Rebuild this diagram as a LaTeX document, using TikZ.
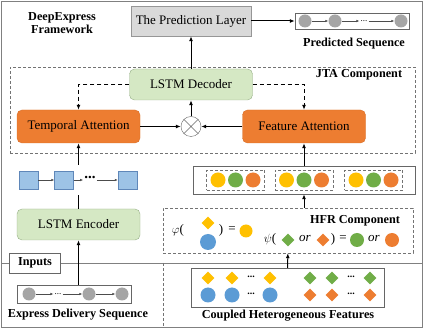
\documentclass[tikz,border=0pt]{standalone}
\usepackage{fontspec}
\setmainfont{Liberation Serif}
\usetikzlibrary{positioning,arrows.meta,calc,fit,shapes.geometric}
\definecolor{lstmgreen}{RGB}{213,232,196}
\definecolor{lstmedge}{RGB}{150,175,135}
\definecolor{attnorange}{RGB}{237,125,49}
\definecolor{attnedge}{RGB}{215,110,40}
\definecolor{predfill}{RGB}{217,217,217}
\definecolor{prededge}{RGB}{150,150,150}
\definecolor{hidblue}{RGB}{157,195,230}
\definecolor{hidedge}{RGB}{95,135,185}
\definecolor{seqgray}{RGB}{165,165,165}
\definecolor{cyellow}{RGB}{255,192,0}
\definecolor{cgreen}{RGB}{112,173,71}
\definecolor{corange}{RGB}{237,125,49}
\definecolor{cblue}{RGB}{91,155,213}
\definecolor{framegray}{RGB}{128,128,128}

\begin{document}
\begin{tikzpicture}[x=1pt, y=-1pt,
      font=\fontsize{13}{15}\selectfont,
      lbl/.style={font=\fontsize{12.2}{12.5}\selectfont\bfseries, align=center},
      lstm/.style={draw=lstmedge, fill=lstmgreen, rounded corners=5pt, minimum width=123pt, minimum height=31pt},
      attn/.style={draw=attnedge, fill=attnorange, rounded corners=5pt, minimum width=123pt, minimum height=33pt},
      pred/.style={draw=prededge, fill=predfill, minimum width=120pt, minimum height=30pt},
      grp/.style={draw=black!55, dash pattern=on 3pt off 2pt, inner sep=0pt},
      seqbox/.style={draw=black!60, fill=white, inner sep=0pt},
      ball/.style={circle, inner sep=0pt, minimum size=#1},
      dia/.style={diamond, aspect=1, inner sep=0pt, minimum size=13pt},
      hid/.style={draw=hidedge, fill=hidblue, inner sep=0pt, minimum width=19pt, minimum height=18pt},
      gap/.style={inner sep=1pt, font=\fontsize{9}{9}\selectfont},
      arr/.style={-{Latex[length=5pt,width=4pt]}, line width=1pt},
      sarr/.style={-{Latex[length=3pt,width=2.5pt]}, black!70, line width=0.6pt},
      darr/.style={arr, dash pattern=on 4pt off 3pt}]
    \useasboundingbox (0,0) rectangle (423,328);
    \draw[framegray, line width=0.9pt] (1,1) rectangle (422,327);
    \draw[framegray, line width=0.9pt] (1,263) -- (422,263);
    \draw[grp] (163,263) -- (163,327);

    \node[lbl] (title) at (62,23) {DeepExpress\\Framework};
    \node[pred] (pred) at (191,21) {The Prediction Layer};
    \node[seqbox, minimum width=114pt, minimum height=16pt] (pseq) at (352,21) {};
    \node[ball=13pt, fill=seqgray] (p1) at (305,21) {};
    \node[ball=13pt, fill=seqgray] (p2) at (335,21) {};
    \node[gap] (pdots) at (364,21) {...};
    \node[ball=13pt, fill=seqgray] (p3) at (401,21) {};
    \draw[sarr] (p1) -- (p2);
    \draw[sarr] (p2) -- (pdots);
    \draw[sarr] (pdots) -- (p3);
    \draw[arr] (pred) -- (pseq);
    \node[lbl] (plbl) at (354,44) {Predicted Sequence};

    \node[grp, minimum width=405pt, minimum height=86pt] (jta) at (212.5,110) {};
    \node[lbl] (jtalbl) at (359,75) {JTA Component};
    \node[lstm] (dec) at (191,84.5) {LSTM Decoder};
    \node[attn] (tatt) at (78.5,126.5) {Temporal Attention};
    \node[attn] (fatt) at (304,126.5) {Feature Attention};
    \node[draw=black!60, fill=white, circle, minimum size=20pt, inner sep=0pt] (mul) at (191,126.5) {};
    \draw[black!60] (mul.north west) -- (mul.south east) (mul.north east) -- (mul.south west);
    \draw[arr] (tatt) -- (mul);
    \draw[arr] (fatt) -- (mul);
    \draw[arr] (mul) -- (dec);
    \draw[arr] (dec) -- (pred);
    \draw[darr] (dec.west) -| (tatt.north);
    \draw[darr] (dec.east) -| (fatt.north);

    \node[hid] (h1) at (28.5,180) {};
    \node[hid] (h2) at (64,180) {};
    \node[gap, font=\fontsize{15}{15}\selectfont\bfseries] (hdots) at (90,177.5) {...};
    \node[hid] (h3) at (127.5,180) {};
    \draw[sarr] (h1) -- (h2);
    \draw[sarr] (h2) -- (h2 -| hdots.west);
    \draw[sarr] (h3 -| hdots.east) -- (h3);
    \coordinate (htop) at (78.5,165);
    \coordinate (hbot) at (78.5,195);

    \node[lstm] (enc) at (78.5,224.5) {LSTM Encoder};
    \draw (enc) -- (hbot);
    \draw[arr] (htop) -- (tatt);

    \node[draw=black!60, fill=white, minimum width=51pt, minimum height=20pt, inner sep=0pt, font=\fontsize{12.2}{13}\selectfont\bfseries] (inp) at (35,263) {Inputs};
    \node[seqbox, minimum width=114pt, minimum height=18pt] (eseq) at (74,294) {};
    \node[ball=13pt, fill=seqgray] (e1) at (29,294) {};
    \node[gap] (edots) at (58,294) {...};
    \node[ball=13pt, fill=seqgray] (e2) at (89,294) {};
    \node[ball=13pt, fill=seqgray] (e3) at (122,294) {};
    \draw[sarr] (e1) -- (edots);
    \draw[sarr] (edots) -- (e2);
    \draw[sarr] (e2) -- (e3);
    \draw[arr] (enc.south |- eseq.north) -- (enc.south);
    \node[lbl] (elbl) at (78,315) {Express Delivery Sequence};

    \node[seqbox, minimum width=222pt, minimum height=28pt] (fr) at (304,180) {};
    \foreach \gx [count=\i] in {235.5,304,373.5} {
      \node[grp, minimum width=58pt, minimum height=20pt] (g\i) at (\gx,180) {};
      \node[ball=15pt, fill=cyellow] (g\i y) at (\gx-17.5,180) {};
      \node[ball=15pt, fill=cgreen] (g\i g) at (\gx,180) {};
      \node[ball=15pt, fill=corange] (g\i o) at (\gx+17.5,180) {};
    }
    \draw[arr] (fr) -- (fatt);

    \node[grp, minimum width=250pt, minimum height=45pt] (hfr) at (288,230.5) {};
    \node[lbl] (hfrlbl) at (355,221) {HFR Component};
    \node (phi) at (178,230) {$\varphi$(};
    \node[dia, fill=cyellow] (phid) at (208,223) {};
    \node[ball=16pt, fill=cblue] (phic) at (208,242) {};
    \node (phir) at (221,230) {)};
    \node (phieq) at (232,230) {=};
    \node[ball=13pt, fill=cyellow] (phiy) at (246,231) {};
    \node (psi) at (270,239) {$\psi$(};
    \node[dia, fill=cgreen] (psig) at (288,240) {};
    \node (psior) at (305,239) {\textit{or}};
    \node[dia, fill=corange] (psio) at (323,240) {};
    \node (psir) at (333,239) {)};
    \node (psieq) at (343,239) {=};
    \node[ball=14pt, fill=cgreen] (psigc) at (357,240) {};
    \node (psior2) at (374,239) {\textit{or}};
    \node[ball=14pt, fill=corange] (psioc) at (392,240) {};
    \draw[arr] (hfr.north -| fr.south) -- (fr.south);

    \node[seqbox, minimum width=193pt, minimum height=39pt] (cpl) at (287.5,287.5) {};
    \foreach \cx [count=\i] in {208,232,270} {
      \node[dia, fill=cyellow] (cy\i) at (\cx,278) {};
      \node[ball=15pt, fill=cblue] (cb\i) at (\cx,295) {};
    }
    \foreach \cx [count=\i] in {310,332,370} {
      \node[dia, fill=cgreen] (cg\i) at (\cx,278) {};
      \node[dia, fill=corange] (co\i) at (\cx,295) {};
    }
    \node[gap, font=\fontsize{10}{10}\selectfont\bfseries] (cd1) at (251,277) {...};
    \node[gap, font=\fontsize{10}{10}\selectfont\bfseries] (cd2) at (251,294) {...};
    \node[gap, font=\fontsize{10}{10}\selectfont\bfseries] (cd3) at (351,277) {...};
    \node[gap, font=\fontsize{10}{10}\selectfont\bfseries] (cd4) at (351,294) {...};
    \draw[arr] (cpl) -- (hfr);
    \node[lbl] (cpllbl) at (288,316) {Coupled Heterogeneous Features};
  \end{tikzpicture}
\end{document}
